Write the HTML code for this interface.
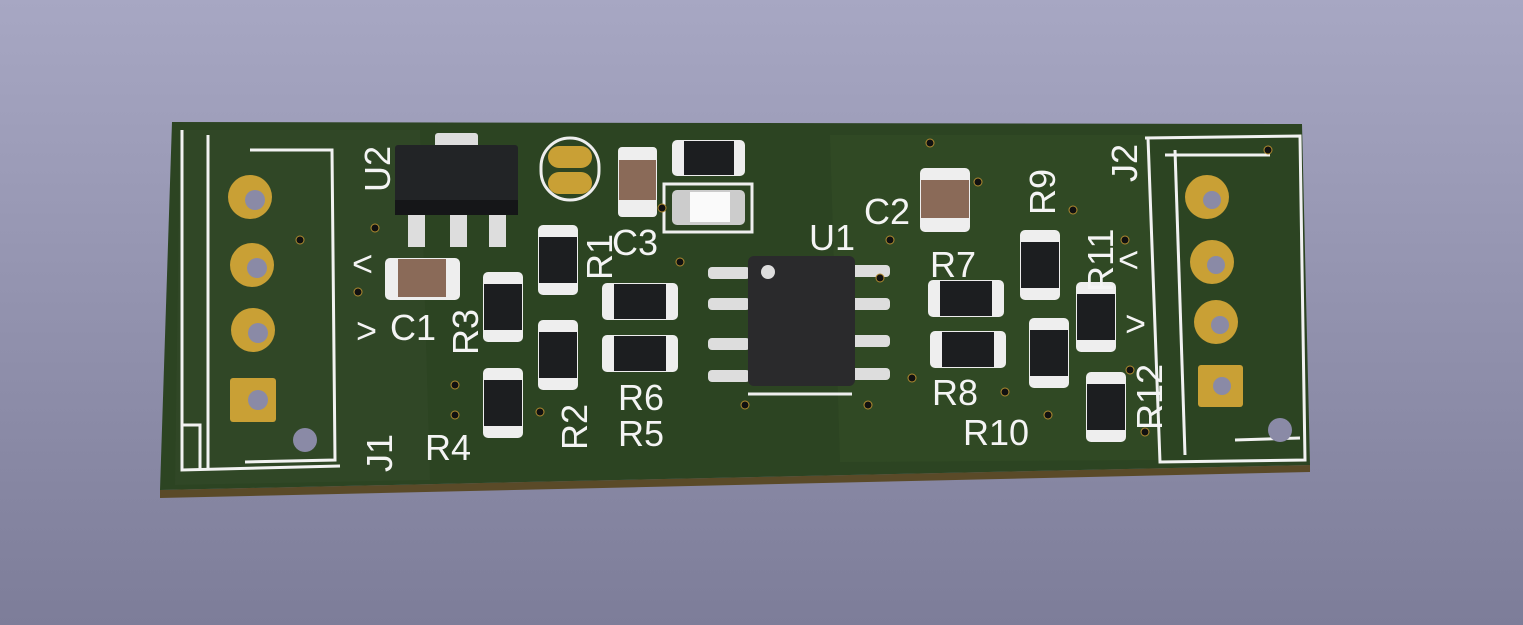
<!DOCTYPE html>
<html><head><style>
html,body{margin:0;padding:0;width:1523px;height:625px;overflow:hidden}
text{font-family:"Liberation Sans",sans-serif;fill:#f4f4f4;font-size:36px}
</style></head><body>
<svg width="1523" height="625" viewBox="0 0 1523 625">
<defs>
<linearGradient id="bg" x1="0" y1="0" x2="0" y2="1"><stop offset="0" stop-color="#a7a7c3"/><stop offset="1" stop-color="#7d7d99"/></linearGradient>
<g id="rv"><rect x="0" y="0" width="40" height="70" rx="5" fill="#eee"/><rect x="1" y="12" width="38" height="46" fill="#1c1e20"/></g>
<g id="rh"><rect x="0" y="0" width="76" height="37" rx="5" fill="#eee"/><rect x="12" y="1" width="52" height="35" fill="#1c1e20"/></g>
</defs>
<rect width="1523" height="625" fill="url(#bg)"/>
<polygon points="160,490 1310,465 1310,472 160,498" fill="#5a4a28"/>
<polygon points="172,122 1302,124 1310,465 160,490" fill="#2c4422"/>
<polygon points="830,135 1150,135 1160,460 840,462" fill="#344d27" opacity="0.6"/>
<polygon points="180,130 420,130 430,480 175,485" fill="#33492a" opacity="0.5"/>
<g fill="none" stroke="#f2f2f2" stroke-width="3">
<polyline points="182,130 182,470 340,466"/><polyline points="250,150 332,150 335,460 245,462"/>
<polyline points="208,135 208,470"/><polyline points="182,425 200,425 200,470"/>
</g>
<g fill="#c9a035"><circle cx="250" cy="197" r="22"/><circle cx="252" cy="265" r="22"/><circle cx="253" cy="330" r="22"/><rect x="230" y="378" width="46" height="44" rx="3"/></g>
<g fill="#8a8aa6"><circle cx="255" cy="200" r="10"/><circle cx="257" cy="268" r="10"/><circle cx="258" cy="333" r="10"/><circle cx="258" cy="400" r="10"/><circle cx="305" cy="440" r="12"/></g>
<g fill="none" stroke="#f2f2f2" stroke-width="3">
<polyline points="1145,138 1300,136 1305,460 1160,462 1148,138"/><polyline points="1165,155 1270,155"/>
<polyline points="1175,150 1185,455"/><polyline points="1235,440 1300,438"/>
</g>
<g fill="#c9a035"><circle cx="1207" cy="197" r="22"/><circle cx="1212" cy="262" r="22"/><circle cx="1216" cy="322" r="22"/><rect x="1198" y="365" width="45" height="42" rx="3"/></g>
<g fill="#8a8aa6"><circle cx="1212" cy="200" r="9"/><circle cx="1216" cy="265" r="9"/><circle cx="1220" cy="325" r="9"/><circle cx="1222" cy="386" r="9"/><circle cx="1280" cy="430" r="12"/></g>
<rect x="435" y="133" width="43" height="16" rx="3" fill="#ddd"/>
<rect x="395" y="145" width="123" height="70" rx="3" fill="#222426"/>
<rect x="395" y="200" width="123" height="15" fill="#151618"/>
<g fill="#ddd"><rect x="408" y="215" width="17" height="32"/><rect x="450" y="215" width="17" height="32"/><rect x="489" y="215" width="17" height="32"/></g>
<rect x="541" y="138" width="58" height="62" rx="29" fill="none" stroke="#eee" stroke-width="3"/>
<rect x="548" y="146" width="44" height="22" rx="11" fill="#c9a035"/><rect x="548" y="172" width="44" height="22" rx="11" fill="#c9a035"/>
<rect x="618" y="147" width="39" height="70" rx="4" fill="#eee"/><rect x="619" y="160" width="37" height="40" fill="#8a6a58"/>
<rect x="672" y="140" width="73" height="36" rx="5" fill="#eee"/><rect x="684" y="141" width="50" height="34" fill="#1c1e20"/>
<rect x="664" y="184" width="88" height="48" fill="none" stroke="#eee" stroke-width="3"/>
<rect x="672" y="190" width="73" height="35" rx="5" fill="#ccc"/><rect x="690" y="192" width="40" height="30" fill="#fafafa"/>
<rect x="920" y="168" width="50" height="64" rx="5" fill="#eee"/><rect x="921" y="180" width="48" height="38" fill="#8a6a58"/>
<rect x="385" y="258" width="75" height="42" rx="5" fill="#eee"/><rect x="398" y="259" width="48" height="38" fill="#8a6a58"/>
<g fill="#ddd"><rect x="708" y="267" width="42" height="12" rx="4"/><rect x="708" y="298" width="42" height="12" rx="4"/><rect x="708" y="338" width="42" height="12" rx="4"/><rect x="708" y="370" width="42" height="12" rx="4"/>
<rect x="850" y="265" width="40" height="12" rx="4"/><rect x="850" y="298" width="40" height="12" rx="4"/><rect x="850" y="335" width="40" height="12" rx="4"/><rect x="850" y="368" width="40" height="12" rx="4"/></g>
<rect x="748" y="256" width="107" height="130" rx="6" fill="#2a2a2c"/>
<circle cx="768" cy="272" r="7" fill="#ddd"/>
<line x1="748" y1="394" x2="852" y2="394" stroke="#eee" stroke-width="3"/>
<use href="#rv" x="538" y="225"/><use href="#rv" x="483" y="272"/><use href="#rv" x="538" y="320"/><use href="#rv" x="483" y="368"/>
<use href="#rv" x="1020" y="230"/><use href="#rv" x="1076" y="282"/><use href="#rv" x="1029" y="318"/><use href="#rv" x="1086" y="372"/>
<use href="#rh" x="602" y="283"/><use href="#rh" x="602" y="335"/><use href="#rh" x="928" y="280"/><use href="#rh" x="930" y="331"/>
<g fill="#111" stroke="#b08a30" stroke-width="1"><circle cx="930" cy="143" r="4"/><circle cx="978" cy="182" r="4"/><circle cx="1073" cy="210" r="4"/><circle cx="1268" cy="150" r="4"/><circle cx="890" cy="240" r="4"/><circle cx="1125" cy="240" r="4"/><circle cx="300" cy="240" r="4"/><circle cx="358" cy="292" r="4"/><circle cx="375" cy="228" r="4"/><circle cx="662" cy="208" r="4"/><circle cx="680" cy="262" r="4"/><circle cx="880" cy="278" r="4"/><circle cx="912" cy="378" r="4"/><circle cx="868" cy="405" r="4"/><circle cx="745" cy="405" r="4"/><circle cx="455" cy="385" r="4"/><circle cx="455" cy="415" r="4"/><circle cx="540" cy="412" r="4"/><circle cx="1005" cy="392" r="4"/><circle cx="1048" cy="415" r="4"/><circle cx="1145" cy="432" r="4"/><circle cx="1130" cy="370" r="4"/></g>
<text x="832" y="250" text-anchor="middle">U1</text>
<text transform="translate(390,192) rotate(-90)">U2</text>
<text x="612" y="255">C3</text>
<text transform="translate(612,280) rotate(-90)">R1</text>
<text x="864" y="224">C2</text>
<text transform="translate(1055,215) rotate(-90)">R9</text>
<text x="930" y="277">R7</text>
<text transform="translate(1113,292) rotate(-90)">R11</text>
<text transform="translate(1137,182) rotate(-90)">J2</text>
<text x="352" y="276">&lt;</text>
<text x="356" y="343">&gt;</text>
<text x="390" y="340">C1</text>
<text transform="translate(478,355) rotate(-90)">R3</text>
<text x="618" y="410">R6</text>
<text x="618" y="446">R5</text>
<text transform="translate(587,450) rotate(-90)">R2</text>
<text x="425" y="460">R4</text>
<text transform="translate(392,472) rotate(-90)">J1</text>
<text x="932" y="405">R8</text>
<text x="963" y="445">R10</text>
<text transform="translate(1162,430) rotate(-90)">R12</text>
<text x="1118" y="272">&lt;</text>
<text x="1125" y="336">&gt;</text>
</svg>
</body></html>
